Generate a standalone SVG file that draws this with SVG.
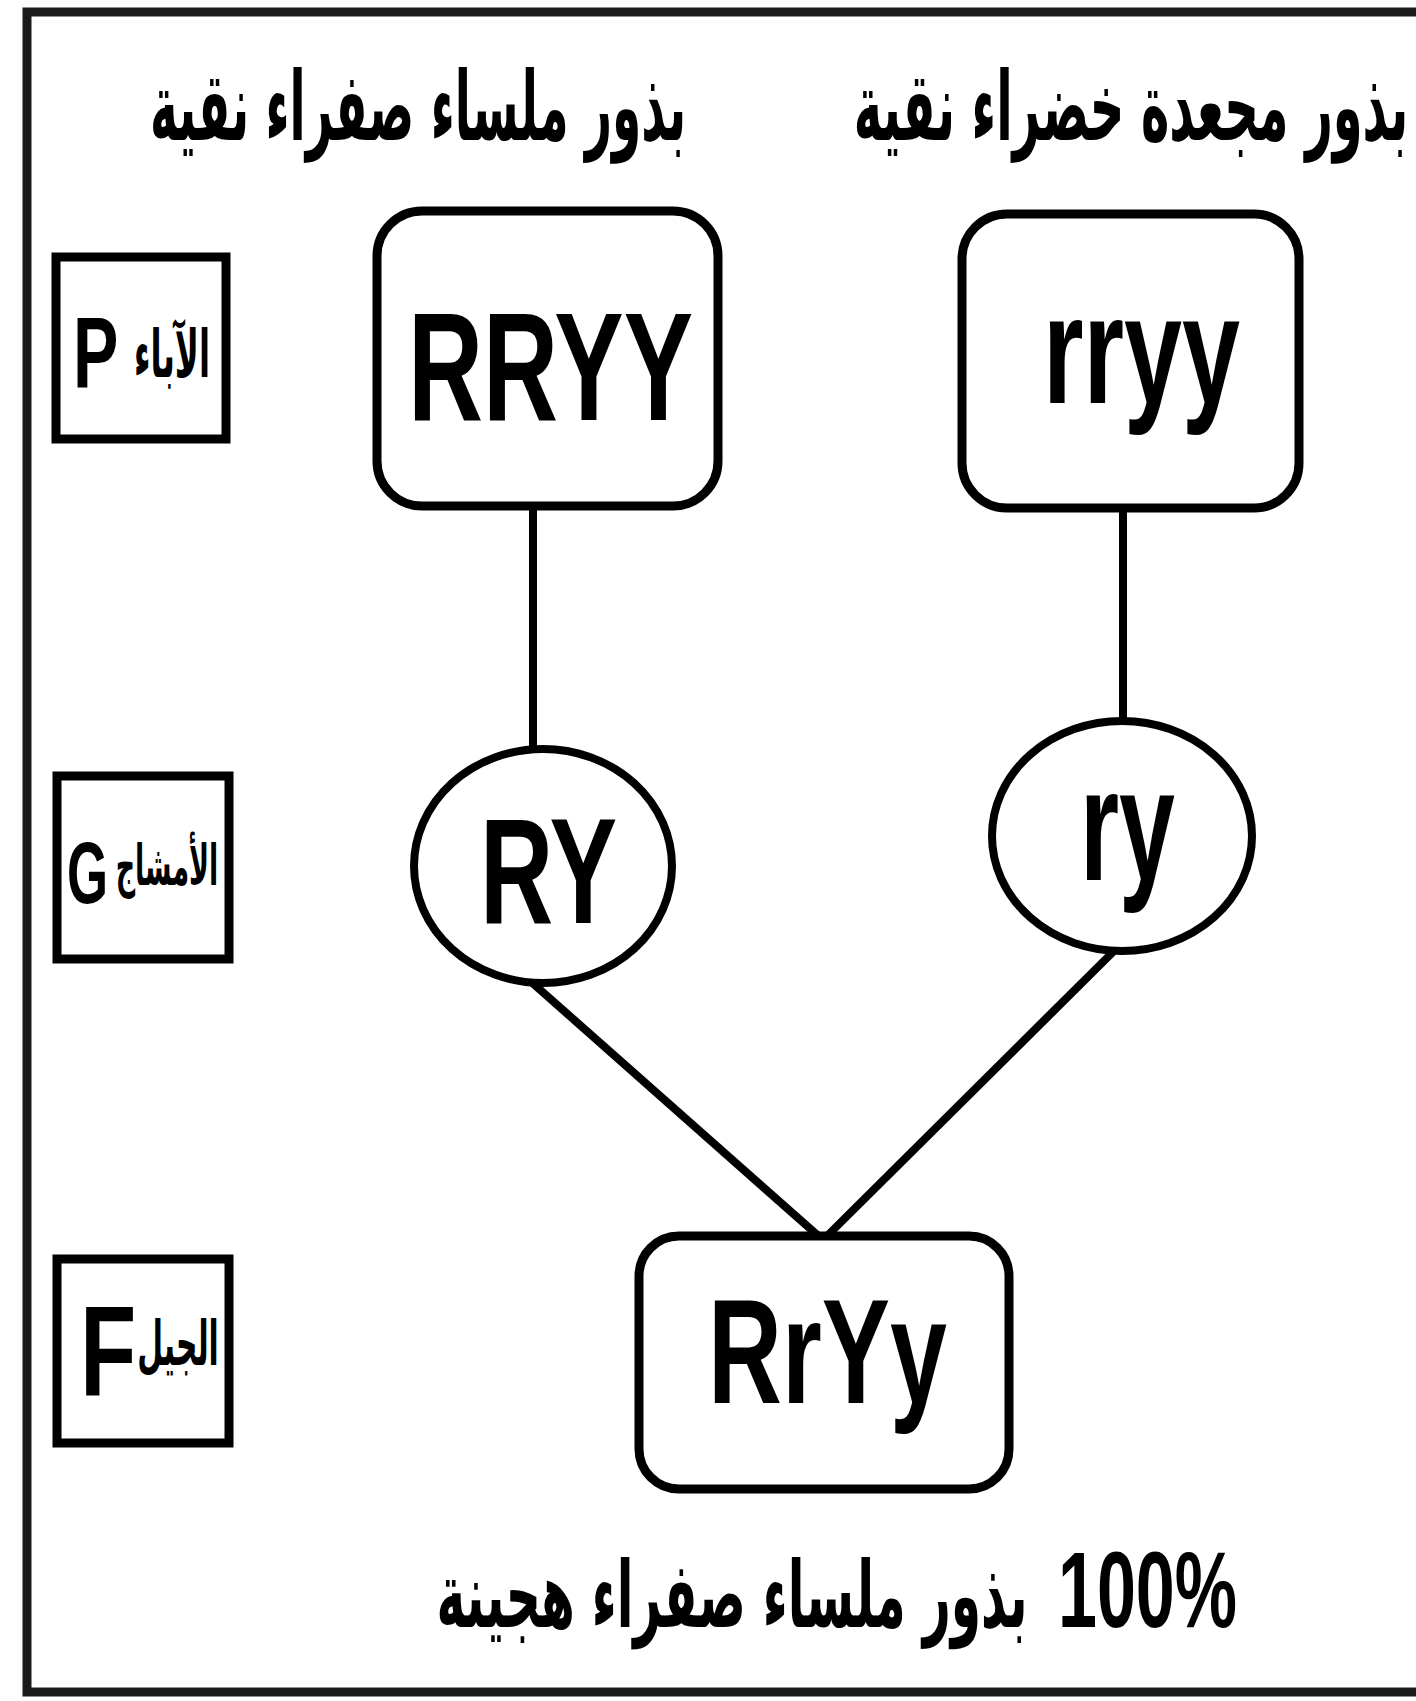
<svg xmlns="http://www.w3.org/2000/svg" width="1416" height="1701" viewBox="0 0 1416 1701">
<style>
.box{fill:#fff;stroke:#000;stroke-width:9}
.lbl{fill:#fff;stroke:#000;stroke-width:9}
.ell{fill:#fff;stroke:#000;stroke-width:8}
.con{stroke:#000;stroke-width:8;fill:none;stroke-linecap:butt}
.lat{font-family:"Liberation Sans Narrow","Liberation Sans",Arial,sans-serif;font-weight:bold;fill:#000}
.ar{font-family:"DejaVu Sans","Noto Sans",sans-serif;font-weight:bold;fill:#000;text-anchor:middle}
</style>
<rect x="0" y="0" width="1416" height="1701" fill="#fff"/>
<rect x="27" y="12" width="1420" height="1680" fill="none" stroke="#1a1a1a" stroke-width="9"/>

<text class="ar" transform="translate(418 140) scale(0.49 1)" font-size="96">بذور ملساء صفراء نقية</text>
<text class="ar" transform="translate(1131 140) scale(0.50 1)" font-size="96">بذور مجعدة خضراء نقية</text>

<g id="connectors">
<line class="con" x1="533" y1="505" x2="533" y2="750"/>
<line class="con" x1="1123" y1="505" x2="1123" y2="722"/>
<line class="con" x1="823" y1="1240" x2="520" y2="972"/>
<line class="con" x1="823" y1="1240" x2="1115" y2="950"/>
</g>

<g id="label-P">
<rect class="lbl" x="56" y="257" width="170" height="182"/>
<text class="lat" transform="translate(73 387) scale(0.68 1)" font-size="100">P</text>
<text class="ar" transform="translate(172 377) scale(0.49 1)" font-size="66">الآباء</text>
</g>
<g id="label-G">
<rect class="lbl" x="57" y="776" width="172" height="183"/>
<text class="lat" transform="translate(67 903) scale(0.6 1)" font-size="88">G</text>
<text class="ar" transform="translate(167 885) scale(0.48 1)" font-size="56">الأمشاج</text>
</g>
<g id="label-F">
<rect class="lbl" x="57" y="1259" width="172" height="184"/>
<text class="lat" transform="translate(80 1395) scale(0.72 1)" font-size="128">F</text>
<text class="ar" transform="translate(178 1365) scale(0.48 1)" font-size="62">الجيل</text>
</g>

<g id="node-RRYY">
<rect class="box" x="377" y="211" width="341" height="295" rx="45"/>
<text class="lat" x="408" y="420" font-size="154" textLength="285" lengthAdjust="spacingAndGlyphs">RRYY</text>
</g>
<g id="node-rryy">
<rect class="box" x="962" y="214" width="337" height="294" rx="45"/>
<text class="lat" x="1043" y="403" font-size="154" textLength="197" lengthAdjust="spacingAndGlyphs">rryy</text>
</g>
<g id="node-RY">
<ellipse class="ell" cx="543" cy="866" rx="129" ry="117"/>
<text class="lat" x="480" y="923" font-size="150" textLength="137" lengthAdjust="spacingAndGlyphs">RY</text>
</g>
<g id="node-ry">
<ellipse class="ell" cx="1122" cy="836" rx="130" ry="115"/>
<text class="lat" x="1080" y="880" font-size="160" textLength="95" lengthAdjust="spacingAndGlyphs">ry</text>
</g>
<g id="node-RrYy">
<rect class="box" x="639" y="1236" width="370" height="253" rx="40"/>
<text class="lat" x="708" y="1403" font-size="148" textLength="239" lengthAdjust="spacingAndGlyphs">RrYy</text>
</g>

<text class="lat" x="1058" y="1627" font-size="107" textLength="179" lengthAdjust="spacingAndGlyphs">100%</text>
<text class="ar" transform="translate(732 1627) scale(0.53 1)" font-size="92">بذور ملساء صفراء هجينة</text>
</svg>
